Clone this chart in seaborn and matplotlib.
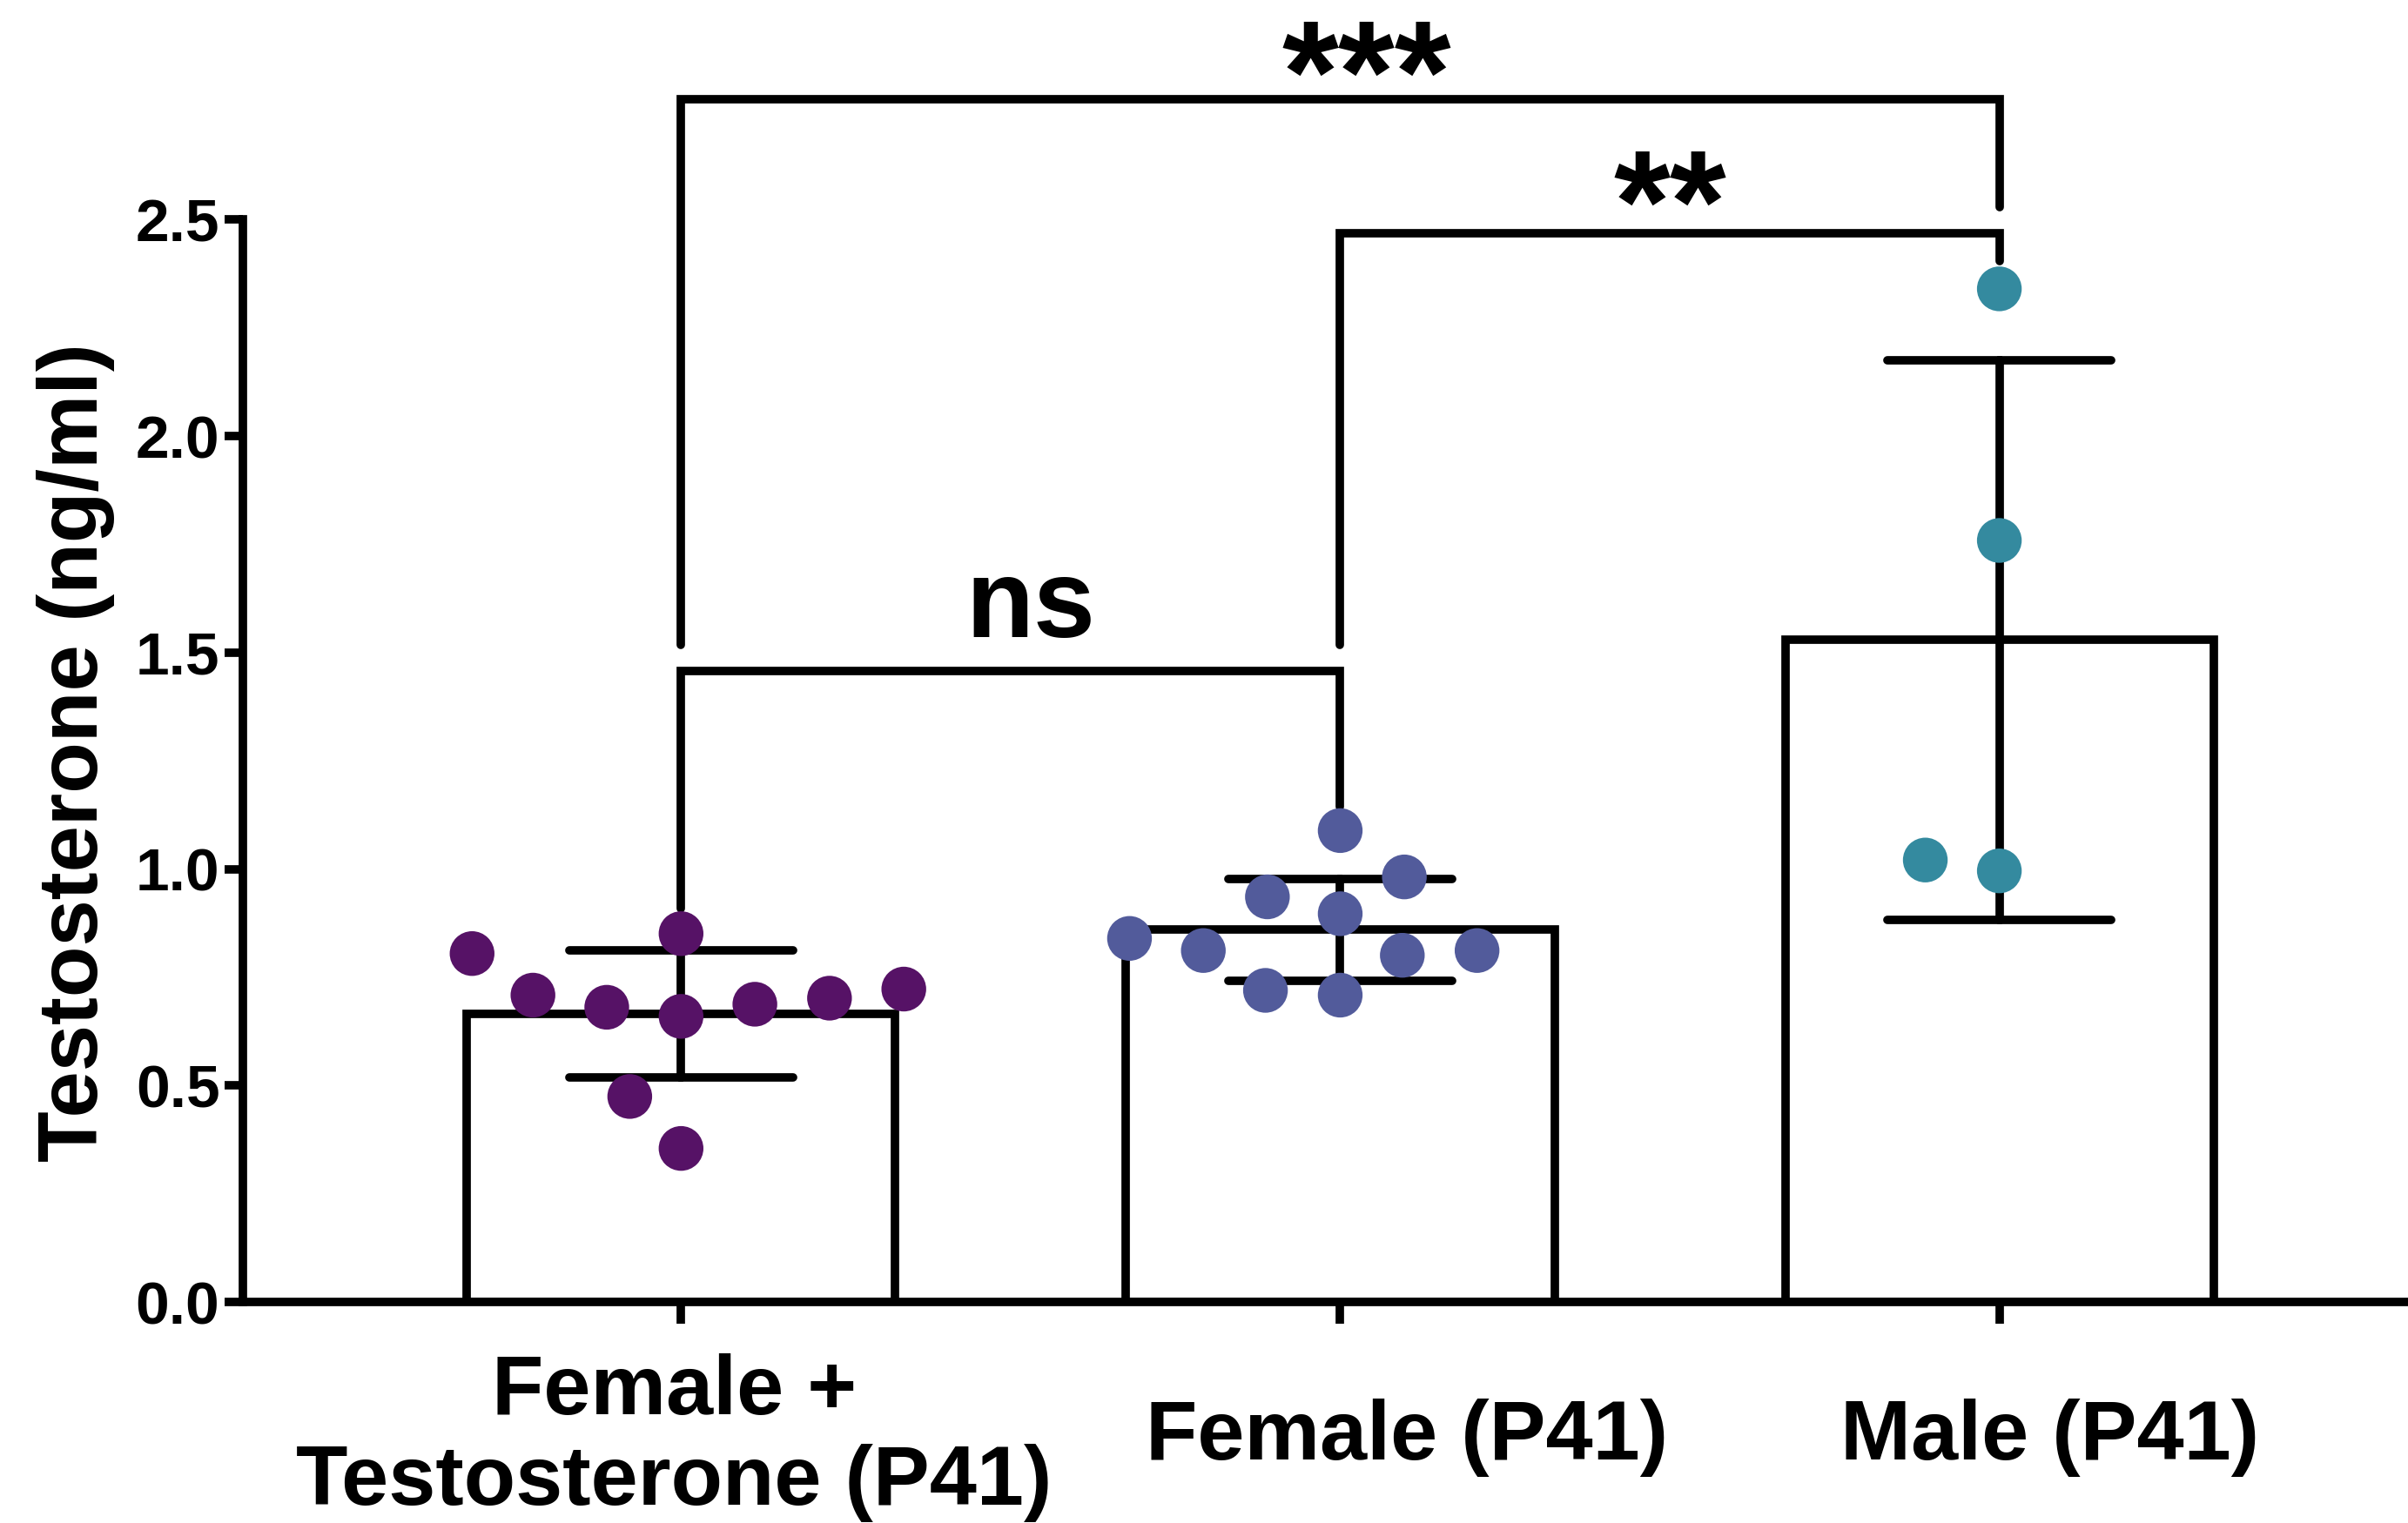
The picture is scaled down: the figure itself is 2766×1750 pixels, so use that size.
import numpy as np
import pandas as pd
import seaborn as sns
import matplotlib.pyplot as plt
from matplotlib.transforms import ScaledTranslation

# Testosterone values (ng/ml)
groups = ['Female +\nTestosterone (P41)', 'Female (P41)', 'Male (P41)']
female_t = [0.805, 0.702, 0.723, 0.851, 0.660, 0.709, 0.681, 0.688, 0.475, 0.355]
female = [1.089, 0.897, 0.812, 0.709, 0.801, 0.982, 0.840, 0.720, 0.936, 0.812]
male = [2.340, 1.759, 0.996, 1.021]
colors = ['#561266', '#525b9b', '#348a9f']
yticks = [0.0, 0.5, 1.0, 1.5, 2.0, 2.5]

# significance brackets: left group, right group, bar y, left leg end, right leg end, label
brackets = [
    (0, 1, 1.457, 0.908, 1.145, 'ns'),
    (1, 2, 2.468, 1.518, 2.404, '**'),
    (0, 2, 2.777, 1.518, 2.528, '***'),
]
# label anchors (x in category units, baseline y in data units) and font sizes
label_pos = {'ns': (0.53, 1.535, 92), '**': (1.50, 2.426, 120), '***': (1.04, 2.727, 120)}

df = pd.DataFrame({
    'group': [groups[0]] * len(female_t) + [groups[1]] * len(female) + [groups[2]] * len(male),
    'value': female_t + female + male,
})

sns.set_theme(style='ticks')
plt.rcParams['font.family'] = ['Liberation Sans', 'DejaVu Sans']
plt.rcParams['font.weight'] = 'bold'
for k in ['text.color', 'axes.edgecolor', 'axes.labelcolor', 'xtick.color', 'ytick.color']:
    plt.rcParams[k] = 'black'

lw = 7
fig = plt.figure(figsize=(27.66, 17.5), dpi=100)
ax = fig.add_axes([0.1008, 0.145, 0.8992, 0.853])

sns.barplot(data=df, x='group', y='value', order=groups, errorbar='sd',
            color='white', edgecolor='black', linewidth=lw, width=0.65,
            capsize=0.34, err_kws={'color': 'black', 'linewidth': lw,
                                   'solid_capstyle': 'round'}, ax=ax)
sns.swarmplot(data=df, x='group', y='value', order=groups, hue='group',
              hue_order=groups, palette=colors, size=37, linewidth=22,
              legend=False, zorder=5, ax=ax)
for c in ax.collections:
    c.set_edgecolor('none')

for x0, x1, ytop, yl, yr, lab in brackets:
    ax.plot([x0, x0, x1, x1], [yl, ytop, ytop, yr], color='black', lw=lw,
            solid_capstyle='round', solid_joinstyle='miter', clip_on=False)
    tx, ty, fs = label_pos[lab]
    ax.text(tx, ty, lab, ha='center', va='baseline', fontsize=fs,
            fontweight='bold', color='black')

ax.set_xlim(-0.665, 2.62)
ax.set_ylim(0, 3.0)
ax.set_yticks(yticks)
ax.set_yticklabels([f'{v:.1f}' for v in yticks])
ax.spines['left'].set_bounds(0, 2.5)
ax.spines['right'].set_visible(False)
ax.spines['top'].set_visible(False)
for s in ['left', 'bottom']:
    ax.spines[s].set_linewidth(lw)
ax.tick_params(axis='y', length=15, width=lw, labelsize=50, pad=4)
ax.tick_params(axis='x', length=18, width=lw, labelsize=70, pad=94)

# category labels sit slightly right of their ticks in the original
shifts = [-8, 77, 58]
for t, dx in zip(ax.get_xticklabels(), shifts):
    t.set_va('center')
    t.set_fontweight('bold')
    t.set_transform(t.get_transform() + ScaledTranslation(dx / 100, 0, fig.dpi_scale_trans))
for t in ax.get_yticklabels():
    t.set_fontweight('bold')

ax.set_xlabel('')
ax.set_ylabel('Testosterone (ng/ml)', fontsize=69, fontweight='bold')
ax.yaxis.set_label_coords(-0.059, 0.423)

plt.savefig('out.png', dpi=100)
